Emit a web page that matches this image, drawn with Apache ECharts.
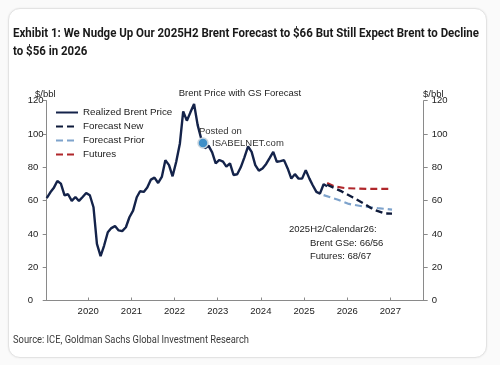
<!DOCTYPE html>
<html>
<head>
<meta charset="utf-8">
<script src="https://cdn.jsdelivr.net/npm/echarts@6/dist/echarts.min.js"></script>
<style>
  html, body { margin: 0; padding: 0; background: #ffffff; }
  #wrap { position: relative; width: 500px; height: 365px; background: #fafafa; overflow: hidden; }
  #frame { position: absolute; left: 8px; top: 8px; width: 477px; height: 348px; background: #ffffff;
           border: 1px solid #e3e3e3; border-radius: 12px; box-shadow: 0 0 2px rgba(0,0,0,0.08); }
  #chart { position: absolute; left: 0; top: 0; width: 500px; height: 365px; }
</style>
</head>
<body>
<div id="wrap">
  <div id="frame"></div>
  <div id="chart"></div>
</div>
<script>
// ---------- data ----------
const realizedMonths = [
  '2019-01','2019-02','2019-03','2019-04','2019-05','2019-06','2019-07','2019-08','2019-09','2019-10','2019-11','2019-12',
  '2020-01','2020-02','2020-03','2020-04','2020-05','2020-06','2020-07','2020-08','2020-09','2020-10','2020-11','2020-12',
  '2021-01','2021-02','2021-03','2021-04','2021-05','2021-06','2021-07','2021-08','2021-09','2021-10','2021-11','2021-12',
  '2022-01','2022-02','2022-03','2022-04','2022-05','2022-06','2022-07','2022-08','2022-09','2022-10','2022-11','2022-12',
  '2023-01','2023-02','2023-03','2023-04','2023-05','2023-06','2023-07','2023-08','2023-09','2023-10','2023-11','2023-12',
  '2024-01','2024-02','2024-03','2024-04','2024-05','2024-06','2024-07','2024-08','2024-09','2024-10','2024-11','2024-12',
  '2025-01','2025-02','2025-03','2025-04','2025-05','2025-06','2025-07'
];
const realizedValues = [
  61.5, 65, 67.5, 71.8, 70.2, 63.2, 63.8, 59.8, 62.2, 59.8, 62.2, 64.6,
  63.2, 56, 34, 26.7, 33, 41, 43.5, 44.7, 42.1, 41.7, 44, 50,
  54, 62, 65.6, 65.2, 67.8, 72.6, 73.8, 70.6, 74.2, 84.3, 81.3, 74.6,
  83.3, 94.3, 113.6, 108, 113, 118, 105.5, 97, 91.5, 93, 89, 82.4,
  84.4, 83.4, 80.4, 82.4, 75.4, 75.8, 80, 86, 92.5, 89.3, 81.3, 78,
  79.3, 82, 85.5, 89.3, 83.3, 83.7, 84.3, 79.3, 73.2, 75.9, 73.2, 73.2,
  78.3, 73.2, 69.2, 65.2, 64.2, 69.8, 68.6
];
const forecastNewDates  = ['2025-07','2025-11','2026-02','2026-05','2026-08','2026-11','2027-01'];
const forecastNewValues = [69.5, 65.5, 62, 58.5, 54.5, 52.3, 52.2];
const forecastPriorDates  = ['2025-06','2025-10','2026-01','2026-05','2026-09','2027-01'];
const forecastPriorValues = [63.3, 60.5, 58, 56.5, 55.5, 54.6];
const futuresDates  = ['2025-07','2025-09','2025-12','2026-06','2027-01'];
const futuresValues = [70.5, 68.5, 67.5, 67, 67];
const yearTicks = ['2020','2021','2022','2023','2024','2025','2026','2027'];
const xRange = ['2019-01-15', '2027-10-10'];

const titleLine1 = 'Exhibit 1: We Nudge Up Our 2025H2 Brent Forecast to $66 But Still Expect Brent to Decline';
const titleLine2 = 'to $56 in 2026';
const sourceText = 'Source: ICE, Goldman Sachs Global Investment Research';

// ---------- helpers ----------
const ts = s => Date.parse(s + 'T00:00:00Z');
const mid = m => ts(m + '-15');
const pair = (ds, vs) => ds.map((d, i) => [mid(d), vs[i]]);
const yearTs = yearTicks.map(y => ts(y + '-01-01'));

// condensed look: measure text and squeeze horizontally to the reference width
const mctx = document.createElement('canvas').getContext('2d');
function widthOf(text, font) { mctx.font = font; return mctx.measureText(text).width; }
const titleFont = 'bold 12px Roboto';
const titleScale = 466 / widthOf(titleLine1, titleFont);
const sourceFont = '11px Roboto';
const sourceScale = 236 / widthOf(sourceText, sourceFont);

const chart = echarts.init(document.getElementById('chart'), null, { renderer: 'canvas' });
const axisGrey = '#8a8a8a';
const txt = '#222';
const tickFont = { fontFamily: 'Liberation Sans', fontSize: 9.5, color: txt };

chart.setOption({
  backgroundColor: 'transparent',
  animation: false,
  title: [
    { text: 'Brent Price with GS Forecast', left: 235, top: 83, textAlign: 'center',
      textStyle: { fontFamily: 'Liberation Sans', fontWeight: 'normal', fontSize: 9.5, color: txt } },
    { text: '$/bbl', left: 30, top: 84, textStyle: { fontFamily: 'Liberation Sans', fontWeight: 'normal', fontSize: 9.5, color: txt } },
    { text: '$/bbl', left: 418, top: 84, textStyle: { fontFamily: 'Liberation Sans', fontWeight: 'normal', fontSize: 9.5, color: txt } }
  ],
  grid: { left: 46.7, right: 76.3, top: 100.7, bottom: 64.5, containLabel: false },
  legend: {
    orient: 'vertical', left: 55, top: 107.5, padding: 0, itemGap: 4, itemWidth: 22, itemHeight: 10,
    itemStyle: { opacity: 0 },
    textStyle: { fontFamily: 'Liberation Sans', fontSize: 9.8, color: txt },
    data: ['Realized Brent Price', 'Forecast New', 'Forecast Prior', 'Futures']
  },
  xAxis: {
    type: 'value',
    min: ts(xRange[0]), max: ts(xRange[1]),
    axisLine: { show: true, onZero: false, lineStyle: { color: axisGrey, width: 1 } },
    axisTick: { show: true, inside: true, length: 3, customValues: yearTs, lineStyle: { color: axisGrey } },
    axisLabel: { customValues: yearTs, formatter: v => String(new Date(v).getUTCFullYear()), margin: 6, ...tickFont },
    splitLine: { show: false }
  },
  yAxis: [
    { type: 'value', min: 0, max: 120, interval: 20, position: 'left',
      axisLine: { show: true, lineStyle: { color: axisGrey } },
      axisTick: { show: true, length: 4, lineStyle: { color: axisGrey } },
      axisLabel: { align: 'left', margin: 19, ...tickFont },
      splitLine: { show: false } },
    { type: 'value', min: 0, max: 120, interval: 20, position: 'right',
      axisLine: { show: true, lineStyle: { color: axisGrey } },
      axisTick: { show: true, length: 4, lineStyle: { color: axisGrey } },
      axisLabel: { margin: 8, ...tickFont },
      splitLine: { show: false } }
  ],
  series: [
    { name: 'Realized Brent Price', type: 'line', data: pair(realizedMonths, realizedValues), showSymbol: false, symbol: 'none',
      lineStyle: { color: '#14234a', width: 2.4 }, itemStyle: { color: '#14234a' }, z: 5 },
    { name: 'Forecast Prior', type: 'line', data: pair(forecastPriorDates, forecastPriorValues), symbol: 'none',
      lineStyle: { color: '#7ea3cc', width: 2.2, type: [7, 4] }, itemStyle: { color: '#7ea3cc' }, z: 3 },
    { name: 'Forecast New', type: 'line', data: pair(forecastNewDates, forecastNewValues), symbol: 'none',
      lineStyle: { color: '#0e1a3a', width: 2.4, type: [7, 4] }, itemStyle: { color: '#0e1a3a' }, z: 4 },
    { name: 'Futures', type: 'line', data: pair(futuresDates, futuresValues), symbol: 'none',
      lineStyle: { color: '#b0272b', width: 2.2, type: [7, 4] }, itemStyle: { color: '#b0272b' }, z: 3 }
  ],
  graphic: [
    { type: 'text', x: 13, y: 34, scaleX: titleScale,
      style: { text: titleLine1, font: titleFont, fill: '#1a1a1a', textVerticalAlign: 'middle' } },
    { type: 'text', x: 13, y: 52, scaleX: titleScale,
      style: { text: titleLine2, font: titleFont, fill: '#1a1a1a', textVerticalAlign: 'middle' } },
    { type: 'text', x: 13, y: 340, scaleX: sourceScale,
      style: { text: sourceText, font: sourceFont, fill: '#3a3a3a', textVerticalAlign: 'middle' } },
    { type: 'text', left: 289, top: 224, style: { text: '2025H2/Calendar26:', font: '9.5px "Liberation Sans"', fill: txt } },
    { type: 'text', left: 310, top: 238, style: { text: 'Brent GSe: 66/56', font: '9.5px "Liberation Sans"', fill: txt } },
    { type: 'text', left: 310, top: 251, style: { text: 'Futures: 68/67', font: '9.5px "Liberation Sans"', fill: txt } },
    { type: 'text', left: 199, top: 126, z: 10, style: { text: 'Posted on', font: '9.5px "Liberation Sans"', fill: '#333' } },
    { type: 'circle', shape: { cx: 203, cy: 143, r: 5 }, z: 10, style: { fill: '#3f8fc8', stroke: '#c8d4de', lineWidth: 1.5 } },
    { type: 'text', left: 212, top: 138, z: 10, style: { text: 'ISABELNET.com', font: '9.5px "Liberation Sans"', fill: '#333' } }
  ]
});
</script>
</body>
</html>
